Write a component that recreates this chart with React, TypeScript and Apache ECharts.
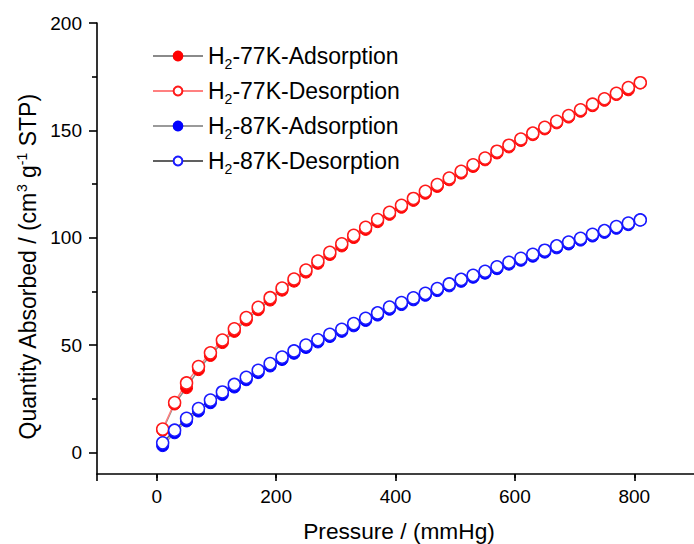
import React, { useEffect, useRef } from 'react';
import * as echarts from 'echarts';

const pressure = [10, 30, 50, 70, 90, 110, 130, 150, 170, 190, 210, 230, 250, 270, 290, 310, 330, 350, 370, 390, 410, 430, 450, 470, 490, 510, 530, 550, 570, 590, 610, 630, 650, 670, 690, 710, 730, 750, 770, 790, 810];

const ads77 = [10.4, 22.6, 30.2, 38.6, 45.2, 51.2, 56.4, 61.7, 66.5, 71.0, 75.6, 79.8, 84.0, 88.1, 92.2, 96.2, 100.1, 103.9, 107.5, 110.9, 114.2, 117.4, 120.7, 123.9, 127.0, 130.1, 133.2, 136.3, 139.5, 142.3, 145.3, 148.0, 150.7, 153.5, 156.2, 158.9, 161.5, 164.0, 166.7, 168.9, 172.1];
const des77 = [10.9, 23.3, 32.4, 40.0, 46.4, 52.4, 57.6, 62.8, 67.6, 72.1, 76.6, 80.8, 85.0, 89.1, 93.2, 97.2, 101.1, 104.9, 108.5, 111.8, 115.1, 118.3, 121.6, 124.8, 127.8, 130.9, 134.0, 137.1, 140.3, 143.1, 146.0, 148.7, 151.4, 154.2, 156.9, 159.6, 162.2, 164.7, 167.3, 169.9, 172.2];
const ads87 = [3.2, 9.2, 14.7, 19.3, 23.2, 27.0, 30.5, 33.9, 37.2, 40.3, 43.3, 46.2, 48.9, 51.5, 54.0, 56.4, 59.0, 61.5, 64.0, 66.7, 68.9, 71.1, 73.2, 75.4, 77.6, 79.7, 81.6, 83.5, 85.6, 87.7, 89.5, 91.4, 93.3, 95.3, 97.1, 98.9, 100.8, 102.5, 104.4, 106.1, 108.3];
const des87 = [4.5, 10.4, 15.9, 20.5, 24.4, 28.2, 31.7, 35.0, 38.3, 41.4, 44.4, 47.3, 50.0, 52.5, 55.0, 57.4, 60.0, 62.5, 65.0, 67.7, 69.8, 72.0, 74.1, 76.3, 78.5, 80.6, 82.5, 84.4, 86.5, 88.6, 90.4, 92.3, 94.2, 96.2, 98.0, 99.7, 101.6, 103.3, 105.2, 106.8, 108.3];

const xTicks = [0, 200, 400, 600, 800];
const yTicks = [0, 50, 100, 150, 200];
const seriesNames = ['H2-77K-Adsorption', 'H2-77K-Desorption', 'H2-87K-Adsorption', 'H2-87K-Desorption'];

const FONT = 'Liberation Sans, Arial, sans-serif';

export default function App() {
  const ref = useRef<HTMLDivElement>(null);
  useEffect(() => {
    const chart = echarts.init(ref.current as HTMLDivElement, null, { renderer: 'svg' });
    const pair = (ys: number[]) => pressure.map((p, i) => [p, ys[i]]);
    const axisLine = { show: true, onZero: false, lineStyle: { color: '#000', width: 1.6 } };
    const mk = (name: string, ys: number[], lineColor: string, fill: string, border: string, bw: number) => ({
      name,
      type: 'line',
      data: pair(ys),
      symbol: 'circle',
      symbolSize: 12,
      lineStyle: { color: lineColor, width: 1.5 },
      itemStyle: { color: fill, borderColor: border, borderWidth: bw },
      emphasis: { disabled: true },
      silent: true,
    });
    chart.setOption({
      animation: false,
      backgroundColor: '#fff',
      grid: { left: 97, right: -6, top: 23, bottom: 70, containLabel: false },
      xAxis: {
        type: 'value',
        min: -100,
        max: 900,
        interval: 200,
        axisLine,
        splitLine: { show: false },
        axisTick: { show: true, length: 7, lineStyle: { color: '#000', width: 1.6 }, customValues: [-100, ...xTicks] },
        minorTick: { show: true, splitNumber: 2, length: 4, lineStyle: { color: '#000', width: 1.6 } },
        axisLabel: { customValues: xTicks, margin: 13, fontSize: 19, color: '#000', fontFamily: FONT },
      },
      yAxis: {
        type: 'value',
        min: -10,
        max: 200,
        axisLine,
        splitLine: { show: false },
        axisTick: { show: true, length: 8, lineStyle: { color: '#000', width: 1.6 }, customValues: yTicks },
        minorTick: { show: true, splitNumber: 2, length: 5, lineStyle: { color: '#000', width: 1.6 } },
        axisLabel: { customValues: yTicks, margin: 15, fontSize: 19, color: '#000', fontFamily: FONT },
      },
      legend: {
        orient: 'vertical',
        left: 152,
        top: 41,
        padding: 0,
        itemWidth: 50,
        itemHeight: 11,
        itemGap: 5,
        selectedMode: false,
        data: seriesNames,
        formatter: (name: string) => `{a|H}{s|2}{a|${name.slice(2)}}`,
        textStyle: {
          color: '#000',
          fontFamily: FONT,
          fontSize: 23,
          rich: {
            a: { fontSize: 23, lineHeight: 30, verticalAlign: 'middle', fontFamily: FONT, color: '#000' },
            s: { fontSize: 14, lineHeight: 14, padding: [16, 0, 0, 0], verticalAlign: 'top', fontFamily: FONT, color: '#000' },
          },
        },
      },
      graphic: [
        {
          type: 'text',
          x: 399,
          y: 531,
          style: { text: 'Pressure / (mmHg)', fontSize: 22.7, fontFamily: FONT, fill: '#000', align: 'center', verticalAlign: 'middle' },
        },
        {
          type: 'text',
          x: 28,
          y: 267,
          rotation: Math.PI / 2,
          style: {
            text: '{a|Quantity Absorbed / (cm}{s|3}{a| g}{s|-1}{a| STP)}',
            align: 'center',
            verticalAlign: 'middle',
            fill: '#000',
            rich: {
              a: { fontSize: 23, lineHeight: 26, fontFamily: FONT, fill: '#000' },
              s: { fontSize: 14, lineHeight: 12, verticalAlign: 'top', fontFamily: FONT, fill: '#000' },
            },
          },
        },
      ],
      series: [
        mk(seriesNames[0], ads77, '#8a8a8a', '#ff0000', '#ff0000', 1),
        mk(seriesNames[1], des77, '#ff8080', '#ffffff', '#ff1a1a', 1.5),
        mk(seriesNames[2], ads87, '#9a9a9a', '#0000ff', '#0000ff', 1),
        mk(seriesNames[3], des87, '#606060', '#ffffff', '#1a1aff', 1.5),
      ],
    });
    return () => chart.dispose();
  }, []);
  return <div ref={ref} style={{ position: 'absolute', left: 0, top: 0, width: 694, height: 544 }} />;
}
